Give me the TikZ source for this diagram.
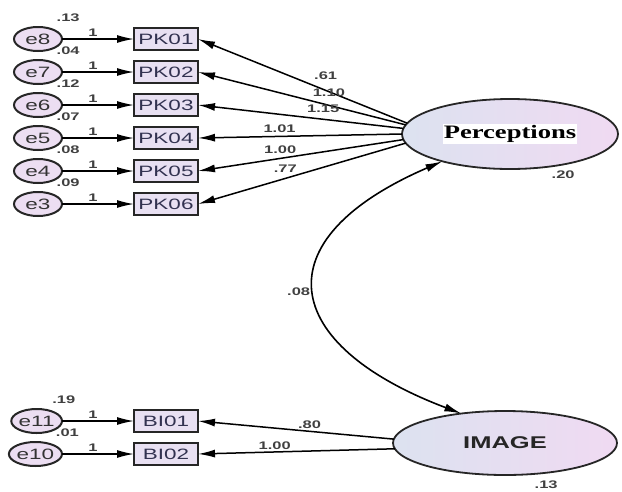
\documentclass[tikz,border=0pt]{standalone}
\usepackage{fontspec}
\setmainfont{Liberation Sans}[FakeStretch=1.5]
\newfontfamily\serifwide{Liberation Serif}[FakeStretch=1.4]
\usetikzlibrary{positioning,shapes.geometric,arrows.meta}

\definecolor{latL}{RGB}{220,226,240}
\definecolor{latR}{RGB}{240,218,242}
\definecolor{obsF}{RGB}{232,224,242}
\definecolor{errF}{RGB}{236,222,242}
\definecolor{obsT}{RGB}{50,50,80}

\begin{document}
\begin{tikzpicture}[x=1pt, y=-1pt,
      node distance=11pt and 72pt,
      errv/.style={ellipse, draw=black!85, line width=2pt, fill=errF,
                   minimum width=48pt, minimum height=24pt, inner sep=0pt, outer sep=0pt,
                   font=\fontsize{15}{15}\selectfont, text=black!80},
      obsv/.style={rectangle, draw=black!85, line width=1.8pt, fill=obsF,
                   minimum width=64pt, minimum height=22pt, inner sep=0pt, outer sep=0pt,
                   font=\fontsize{15}{15}\selectfont, text=obsT},
      latv/.style={ellipse, draw=black!85, line width=1.8pt, left color=latL, right color=latR,
                   inner sep=0pt, outer sep=0pt},
      est/.style={font=\fontsize{11}{11}\selectfont\bfseries, text=black!75, inner sep=1.5pt},
      regr/.style={-{Latex[length=17pt,width=8pt]}, line width=1.5pt},
      cov/.style={{Latex[length=17pt,width=8pt]}-{Latex[length=17pt,width=8pt]}, line width=1.6pt}
    ]
    \useasboundingbox (0,0) rectangle (622,491);

    % latent variables
    \node[latv, minimum width=216pt, minimum height=70pt] (perc) at (510,134) {};
    \node[fill=white, inner sep=1pt, font=\serifwide\bfseries\fontsize{19}{19}\selectfont] (perclab) at (perc) {Perceptions};
    \node[est, below right=0pt and 40pt of perc.south] (percvar) {.20};
    \node[latv, minimum width=224pt, minimum height=64pt] (image) at (505,443) {};
    \node[font=\bfseries\fontsize{17}{17}\selectfont, text=black!85] (imagelab) at (image) {IMAGE};
    \node[est, below right=4pt and 28pt of image.south] (imagevar) {.13};

    % perception items
    \node[obsv] (pk1) at (166,39) {PK01};
    \node[obsv, below=of pk1] (pk2) {PK02};
    \node[obsv, below=of pk2] (pk3) {PK03};
    \node[obsv, below=of pk3] (pk4) {PK04};
    \node[obsv, below=of pk4] (pk5) {PK05};
    \node[obsv, below=of pk5] (pk6) {PK06};

    \node[errv, left=of pk1] (e8) {e8};
    \node[errv, left=of pk2] (e7) {e7};
    \node[errv, left=of pk3] (e6) {e6};
    \node[errv, left=of pk4] (e5) {e5};
    \node[errv, left=of pk5] (e4) {e4};
    \node[errv, left=of pk6] (e3) {e3};

    \node[est, above right=7pt and 0pt of e8.north east] {.13};
    \node[est, above right=7pt and 0pt of e7.north east] {.04};
    \node[est, above right=7pt and 0pt of e6.north east] {.12};
    \node[est, above right=7pt and 0pt of e5.north east] {.07};
    \node[est, above right=7pt and 0pt of e4.north east] {.08};
    \node[est, above right=7pt and 0pt of e3.north east] {.09};

    \draw[regr] (e8) -- node[est, pos=0.43, above]{1} (pk1);
    \draw[regr] (e7) -- node[est, pos=0.43, above]{1} (pk2);
    \draw[regr] (e6) -- node[est, pos=0.43, above]{1} (pk3);
    \draw[regr] (e5) -- node[est, pos=0.43, above]{1} (pk4);
    \draw[regr] (e4) -- node[est, pos=0.43, above]{1} (pk5);
    \draw[regr] (e3) -- node[est, pos=0.43, above]{1} (pk6);

    \draw[regr] (perc.174) -- node[est, pos=0.39, above, yshift=9pt]{.61} (pk1.east);
    \draw[regr] (perc.175) -- node[est, pos=0.37, above, yshift=6pt]{1.10} (pk2.east);
    \draw[regr] (perc.177) -- node[est, pos=0.39, above, yshift=4pt]{1.15} (pk3.east);
    \draw[regr] (perc.180) -- node[est, pos=0.6, above, yshift=2pt]{1.01} (pk4.east);
    \draw[regr] (perc.183) -- node[est, pos=0.6, above, yshift=3pt]{1.00} (pk5.east);
    \draw[regr] (perc.185) -- node[est, pos=0.58, above, yshift=4pt]{.77} (pk6.east);

    % image items
    \node[obsv] (bi1) at (166,421) {BI01};
    \node[obsv, below=of bi1] (bi2) {BI02};
    \node[errv, left=of bi1] (e11) {e11};
    \node[errv, left=of bi2] (e10) {e10};
    \node[est, above right=7pt and -4pt of e11.north east] {.19};
    \node[est, above right=7pt and 0pt of e10.north east] {.01};

    \draw[regr] (e11) -- node[est, pos=0.43, above]{1} (bi1);
    \draw[regr] (e10) -- node[est, pos=0.43, above]{1} (bi2);
    \draw[regr] (image.178) -- node[est, pos=0.43, above]{.80} (bi1.east);
    \draw[regr] (image.183) -- node[est, pos=0.61, above]{1.00} (bi2.east);

    % covariance
    \draw[cov] (perc.202) .. controls (260,240) and (280,345) .. node[est, pos=0.5, left=3pt]{.08} (image.146);
  \end{tikzpicture}
\end{document}
